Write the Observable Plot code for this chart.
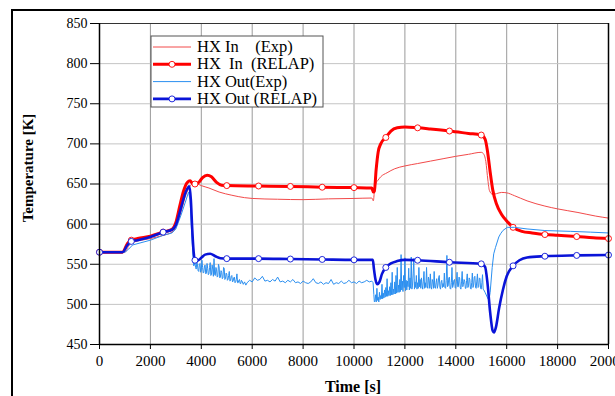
<!DOCTYPE html>
<html><head><meta charset="utf-8">
<script src="https://cdn.jsdelivr.net/npm/d3@7"></script>
<script src="https://cdn.jsdelivr.net/npm/@observablehq/plot@0.6"></script>
<style>
html,body{margin:0;padding:0;background:#fff;overflow:hidden}
#chart{position:relative;width:615px;height:396px}
</style></head>
<body><div id="chart"></div>
<script>
const xTicks = [0,2000,4000,6000,8000,10000,12000,14000,16000,18000,20000];
const yTicks = [450,500,550,600,650,700,750,800,850];
const markerTimes = [0,1250,2500,3750,5000,6250,7500,8750,10000,11250,12500,13750,15000,16250,17500,18750,20000];
const seriesNames = ["HX In    (Exp)", "HX  In  (RELAP)", "HX Out(Exp)", "HX Out (RELAP)"];

// HX In (RELAP)
const hxInRelap = [[0,565],[900,565],[1100,576],[1250,580],[1500,582],[2000,585],[2500,590],[2850,593.5],[3000,602],[3150,622],[3300,641],[3450,652],[3560,654],[3650,651],[3750,650],[3900,652],[4050,658],[4230,661],[4400,659],[4600,652],[4800,648.5],[5000,648],[6250,647.5],[7500,647],[8750,646],[10000,645.5],[10700,645],[10760,640],[10800,641],[10870,668],[10950,690],[11050,700],[11250,708],[11450,716],[11700,720],[12000,721],[12500,720],[13000,718.5],[13750,716],[14500,713],[15000,711],[15150,706],[15250,690],[15350,665],[15450,643],[15600,625],[15800,612],[16000,604],[16250,596],[16600,591],[17000,589],[17500,587],[18000,586],[18750,584.5],[19400,583],[20000,582]];

// HX In (Exp)
const hxInExp = [[0,565],[1000,565],[1150,573],[1300,577],[2000,582],[2500,586],[2850,590],[3000,596],[3200,615],[3400,637],[3550,647],[3700,650.5],[3850,650],[4000,648],[4300,645],[4700,640],[5200,636],[5700,633],[6000,632],[7000,631],[8000,630.5],[9000,631.5],[10000,632],[10700,632.5],[10760,629],[10800,640],[10850,650],[10950,655],[11050,659],[11300,664],[11600,669],[12000,672.5],[12500,675.5],[13000,678.5],[13500,681.5],[14000,684.5],[14500,687],[15000,689.5],[15080,688],[15180,678],[15260,655],[15320,642],[15450,637],[15600,638],[15800,639.5],[16000,639],[16300,635.5],[16800,629],[17500,622.5],[18000,619],[18800,614.5],[19500,610],[20000,607.5]];

// HX Out (RELAP)
const hxOutRelap = [[0,565],[900,565],[1100,574],[1250,578.5],[1500,580],[2000,584],[2500,590],[2850,593],[3000,599],[3200,620],[3400,641],[3530,647],[3590,630],[3640,596],[3700,565],[3750,555],[3850,554.5],[4000,558],[4150,562],[4350,563],[4550,560],[4750,557.5],[5000,557],[6250,557],[7500,556.5],[8750,556],[10000,555.5],[10740,555.5],[10780,545],[10850,530],[10920,525],[11000,528],[11100,538],[11250,546],[11450,551],[11700,554],[12000,555.5],[12500,555],[13750,552.5],[15000,550.5],[15150,547],[15250,525],[15350,490],[15450,467],[15500,465],[15580,472],[15700,495],[15850,518],[16000,535],[16250,548],[16500,555],[16800,558.5],[17500,560],[18750,561],[20000,561.5]];

// HX Out (Exp)
const hxOutExp = [[0,565],[1000,565],[1150,569],[1300,574],[2000,580],[2500,586],[2850,589],[3000,594],[3200,611],[3400,630],[3500,640],[3560,630],[3620,590],[3680,556],[3700,548],
[3725,549],[3750,552],[3775,546],[3800,544],[3825,553],[3850,549],[3875,542],[3900,541],[3925,550],[3950,551],[3975,540],[4000,543],[4025,555],[4050,546],[4075,539],[4100,540],[4125,548],[4150,549],[4175,538],[4200,539],[4225,551],[4250,545],[4275,537],[4300,538],[4325,546],[4350,552],[4375,536],[4400,537],[4425,549],[4450,544],[4475,535],[4500,557],[4525,537],[4550,536],[4575,546],[4600,543],[4625,534],[4650,535],[4675,550],[4700,547],[4725,533],[4750,534],[4775,542],[4800,540],[4825,532],[4850,533],[4875,546],[4900,545],[4925,531],[4950,532],[4975,539],[5000,538],[5025,530],[5050,531],[5075,536],[5100,541],[5125,529],[5150,530],[5175,535],[5200,536],[5225,528],[5250,529],[5275,533],[5300,534],[5325,527],[5350,528],[5375,531],[5400,538],[5425,527],[5450,527],[5475,530],[5500,531],[5525,526],[5550,526],[5575,530],[5600,529],[5650,525],[5700,528],[5750,524],[5800,527],
[5900,530],[6000,528],[6100,533],[6200,530],[6300,531],[6400,535],[6500,529],[6600,530],[6700,528],[6800,531],[6900,529],[7000,534],[7100,528],[7200,529],[7300,527],[7400,530],[7500,528],[7600,531],[7700,527],[7800,528],[7900,526],[8000,529],[8100,527],[8200,526],[8300,528],[8400,532],[8500,527],[8600,526],[8700,528],[8800,525],[8900,527],[9000,526],[9100,531],[9200,525],[9300,527],[9400,526],[9500,529],[9600,526],[9700,527],[9800,530],[9900,527],[10000,528],[10100,526],[10200,529],[10300,527],[10400,528],[10500,530],[10600,528],[10700,529],[10750,527],[10780,512],[10800,503],
[10825,504],[10850,512],[10875,503],[10900,520],[10925,505],[10950,509],[10975,503],[11000,515],
[11025,506],[11050,511],[11075,507],[11100,525],[11125,507],[11150,514],[11175,508],[11200,518],
[11225,509],[11250,521],[11275,510],[11300,532],[11325,510],[11350,517],[11375,511],[11400,522],
[11425,511],[11450,527],[11475,512],[11500,540],[11525,512],[11550,519],[11575,513],[11600,528],
[11625,513],[11650,536],[11675,514],[11700,546],[11725,515],[11750,524],[11775,515],[11800,531],
[11825,516],[11850,562],[11875,518],[11900,529],[11925,516],[11950,536],[11975,521],[12000,558],
[12025,517],[12050,530],[12075,518],[12100,529],[12125,522],[12150,545],[12175,518],[12200,533],
[12225,520],[12250,559],[12275,519],[12300,524],[12325,538],[12350,557],[12375,519],[12400,528],
[12425,521],[12450,536],[12475,519],[12500,527],[12525,520],[12550,546],[12575,522],[12600,531],
[12625,520],[12650,533],[12675,524],[12700,519],[12725,529],[12750,541],[12775,520],[12800,527],
[12825,521],[12850,546],[12875,523],[12900,520],[12925,534],[12950,530],[12975,520],[13000,538],
[13025,522],[13050,519],[13075,531],[13100,528],[13125,520],[13150,541],[13175,521],[13200,520],
[13225,527],[13250,532],[13275,520],[13300,524],[13325,533],[13350,536],[13375,521],[13400,519],
[13425,528],[13450,530],[13475,521],[13500,526],[13525,522],[13550,539],[13575,521],[13600,520],
[13625,530],[13650,561],[13675,522],[13700,523],[13725,533],[13750,534],[13775,520],[13800,519],
[13825,527],[13850,546],[13875,521],[13900,524],[13925,530],[13950,531],[13975,521],[14000,520],
[14025,529],[14050,540],[14075,522],[14100,522],[14125,534],[14150,533],[14175,521],[14200,519],
[14225,528],[14250,541],[14275,522],[14300,525],[14325,531],[14350,529],[14375,520],[14400,520],
[14425,530],[14450,538],[14475,521],[14500,523],[14525,533],[14550,531],[14575,520],[14600,519],
[14625,527],[14650,539],[14675,521],[14700,524],[14725,534],[14750,535],[14775,521],[14800,520],
[14825,529],[14850,538],[14875,521],[14900,522],[14925,533],[14950,532],[14975,520],[15000,519],
[15025,527],[15050,537],[15075,519],[15100,518],
[15150,515],[15250,508],[15300,505],[15350,515],[15430,546],[15490,563],[15560,571],[15690,584],[15760,588],[15850,592],[16020,596],[16300,596],[16800,594],[17500,592],[18500,591],[19300,590],[20000,589]];

const C = {inExp:"#f24a4a", inRelap:"#ff0000", outExp:"#2b8ff0", outRelap:"#0a14d8"};
const isMarker = d => markerTimes.includes(d[0]);
const X = d => d[0], Y = d => d[1];

const plot = Plot.plot({
  width: 615, height: 396,
  marginLeft: 99, marginRight: 7, marginTop: 23, marginBottom: 52,
  style: {fontFamily: "'Liberation Serif', 'Times New Roman', serif", fontSize: "14px", color: "#000", background: "#fff"},
  x: {domain: [0, 20000]},
  y: {domain: [450, 850]},
  marks: [
    Plot.ruleX(xTicks, {stroke: "#9a9a9a", strokeWidth: 1}),
    Plot.ruleY(yTicks, {stroke: "#c4c4c4", strokeWidth: 1}),
    Plot.line(hxInExp, {x: X, y: Y, stroke: C.inExp, strokeWidth: 1, curve: "monotone-x"}),
    Plot.line(hxInRelap, {x: X, y: Y, stroke: C.inRelap, strokeWidth: 3, curve: "monotone-x"}),
    Plot.dot(hxInRelap.filter(isMarker), {x: X, y: Y, r: 3, fill: "white", stroke: C.inRelap, strokeWidth: 0.9}),
    Plot.line(hxOutExp, {x: X, y: Y, stroke: C.outExp, strokeWidth: 1}),
    Plot.line(hxOutRelap, {x: X, y: Y, stroke: C.outRelap, strokeWidth: 2.6, curve: "monotone-x"}),
    Plot.dot(hxOutRelap.filter(isMarker), {x: X, y: Y, r: 3, fill: "white", stroke: C.outRelap, strokeWidth: 0.9}),
    Plot.frame({stroke: "#333", strokeWidth: 1}),
    Plot.ruleX([0], {stroke: "#000", strokeWidth: 1.5}),
    Plot.ruleX([20000], {stroke: "#000", strokeWidth: 1.5}),
    Plot.ruleY([450], {stroke: "#000", strokeWidth: 1.5}),
    Plot.axisY({ticks: yTicks, tickSize: 9, tickPadding: 3, label: null, fontSize: 14}),
    Plot.axisX({ticks: xTicks, tickSize: 5, tickPadding: 6, label: null, fontSize: 15, tickFormat: d => String(d)})
  ]
});
document.getElementById("chart").appendChild(plot);

const svg = d3.select(plot);
svg.style("overflow", "hidden");
// outer frame
svg.append("line").attr("x1", 11).attr("x2", 615).attr("y1", 10).attr("y2", 10).attr("stroke", "#000").attr("stroke-width", 2);
svg.append("line").attr("x1", 12).attr("x2", 12).attr("y1", 10).attr("y2", 396).attr("stroke", "#000").attr("stroke-width", 2);
// axis titles
svg.append("text").attr("x", 353).attr("y", 392).attr("text-anchor", "middle")
  .attr("font-weight", "bold").attr("font-size", 16).text("Time [s]");
svg.append("text").attr("transform", "translate(33,168) rotate(-90)").attr("text-anchor", "middle")
  .attr("font-weight", "bold").attr("font-size", 15).text("Temperature [K]");
// legend
const lg = svg.append("g").attr("text-anchor", "start");
lg.append("rect").attr("x", 151).attr("y", 36).attr("width", 172).attr("height", 71)
  .attr("fill", "white").attr("stroke", "#555").attr("stroke-width", 1);
const legendStyles = [
  {c: C.inExp, w: 1, m: false},
  {c: C.inRelap, w: 3, m: true},
  {c: C.outExp, w: 1, m: false},
  {c: C.outRelap, w: 2.6, m: true}
];
seriesNames.forEach((name, i) => {
  const y = 47 + i * 17.3;
  const s = legendStyles[i];
  lg.append("line").attr("x1", 153).attr("x2", 191).attr("y1", y).attr("y2", y).attr("stroke", s.c).attr("stroke-width", s.w);
  if (s.m) lg.append("circle").attr("cx", 172).attr("cy", y).attr("r", 3).attr("fill", "white").attr("stroke", s.c).attr("stroke-width", 0.9);
  lg.append("text").attr("x", 197).attr("y", y + 5).attr("text-anchor", "start").attr("font-size", 16.5)
    .style("white-space", "pre").text(name);
});
</script></body></html>
